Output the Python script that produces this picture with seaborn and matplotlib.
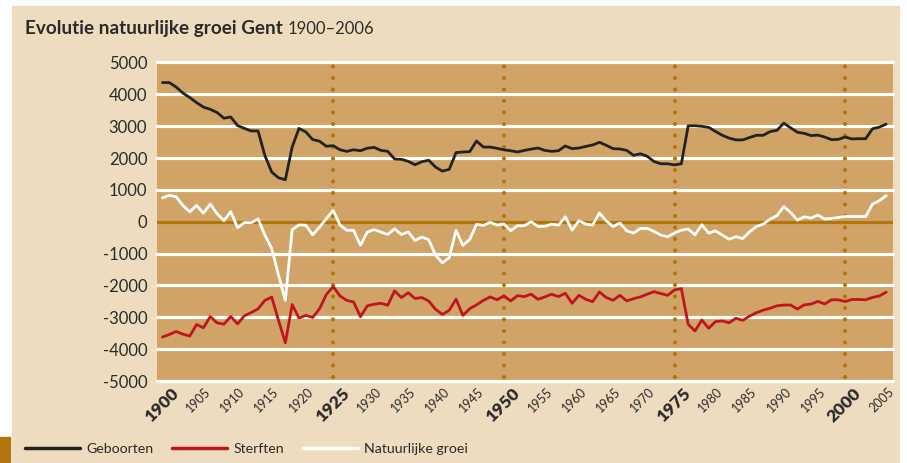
import matplotlib
matplotlib.use("Agg")
import matplotlib.pyplot as plt
import matplotlib.transforms as mtransforms
from matplotlib.lines import Line2D
from matplotlib.patches import Rectangle
import pandas as pd
import seaborn as sns

# --- data ---
jaren = list(range(1900, 2007))

geboorten = [
    4370, 4370, 4230, 4040, 3900, 3740, 3600, 3530, 3430, 3250,
    3290, 3020, 2930, 2850, 2850, 2080, 1560, 1380, 1320, 2350,
    2930, 2820, 2580, 2530, 2370, 2390, 2260, 2210, 2260, 2230,
    2310, 2335, 2240, 2210, 1970, 1960, 1895, 1790, 1885, 1930,
    1715, 1590, 1645, 2170, 2190, 2200, 2535, 2345, 2345, 2305,
    2260, 2230, 2190, 2240, 2280, 2315, 2240, 2210, 2230, 2380,
    2295, 2315, 2365, 2410, 2495, 2400, 2295, 2285, 2240, 2085,
    2135, 2055, 1890, 1820, 1820, 1785, 1820, 3010, 3015, 2995,
    2965, 2835, 2715, 2625, 2570, 2570, 2645, 2715, 2715, 2830,
    2870, 3095, 2950, 2810, 2775, 2705, 2720, 2660, 2578, 2588,
    2660, 2600, 2608, 2608, 2920, 2970, 3065,
]

sterften = [
    -3620, -3540, -3445, -3530, -3590, -3225, -3330, -2975, -3175, -3215,
    -2975, -3205, -2955, -2850, -2735, -2470, -2365, -3100, -3800, -2600,
    -3025, -2940, -3005, -2735, -2285, -2035, -2330, -2470, -2520, -2980,
    -2640, -2590, -2560, -2620, -2170, -2380, -2230, -2410, -2380, -2490,
    -2750, -2910, -2780, -2430, -2940, -2730, -2610, -2470, -2360, -2450,
    -2330, -2485, -2320, -2350, -2275, -2435, -2360, -2275, -2350, -2245,
    -2560, -2310, -2435, -2510, -2205, -2380, -2465, -2310, -2485, -2415,
    -2360, -2275, -2195, -2255, -2310, -2140, -2100, -3220, -3430, -3085,
    -3345, -3135, -3115, -3170, -3030, -3095, -2960, -2855, -2775, -2715,
    -2640, -2615, -2615, -2740, -2610, -2585, -2500, -2580, -2450, -2450,
    -2505, -2440, -2440, -2450, -2375, -2330, -2210,
]

groei = [
    750, 830, 785, 510, 310, 515, 270, 555, 255, 35,
    315, -185, -25, -30, 90, -420, -840, -1680, -2470, -250,
    -100, -110, -410, -170, 100, 355, -100, -270, -270, -740,
    -325, -245, -325, -400, -220, -400, -320, -590, -480, -565,
    -1050, -1290, -1130, -270, -745, -555, -80, -115, -20, -105,
    -70, -280, -125, -125, 0, -145, -145, -75, -105, 155,
    -260, 30, -75, -105, 275, 30, -155, -40, -285, -355,
    -210, -210, -305, -420, -470, -355, -265, -230, -410, -95,
    -355, -285, -420, -545, -470, -525, -315, -150, -75, 85,
    190, 475, 295, 50, 155, 115, 210, 85, 105, 135,
    165, 165, 165, 165, 555, 660, 820,
]

reeksen = ["Geboorten", "Sterften", "Natuurlijke groei"]
y_ticks = [5000, 4000, 3000, 2000, 1000, 0, -1000, -2000, -3000, -4000, -5000]
x_ticks = list(range(1900, 2006, 5))
mijlpalen = [1925, 1950, 1975, 2000]

# kleuren
BEIGE = "#eedcbf"
VAK = "#cfa466"
GOUD = "#b3760e"
TEKST = "#2b2b2b"
kleuren = {"Geboorten": "#222222", "Sterften": "#c0141e", "Natuurlijke groei": "#ffffff"}

sns.set_style("white")
plt.rcParams["font.family"] = ["Lato", "DejaVu Sans"]

df = pd.DataFrame({
    "jaar": jaren * 3,
    "waarde": geboorten + sterften + groei,
    "reeks": [r for r in reeksen for _ in jaren],
})

W, H = 907, 463
fig = plt.figure(figsize=(W / 100, H / 100), dpi=100)
fig.patch.set_facecolor("white")
fig.patches.append(Rectangle((12 / W, 0), (899 - 12) / W, (H - 6) / H,
                             transform=fig.transFigure, color=BEIGE, zorder=-10))
fig.patches.append(Rectangle((0, 0), 10 / W, 26 / H,
                             transform=fig.transFigure, color=GOUD, zorder=-9))

ax = fig.add_axes([157 / W, 82 / H, 736 / W, 318.5 / H])
ax.set_facecolor(VAK)
for s in ax.spines.values():
    s.set_visible(False)

# rasterlijnen
for v in y_ticks:
    if v == 0:
        ax.axhline(v, color=GOUD, lw=2.3, zorder=1)
    else:
        ax.axhline(v, color="white", lw=2.3, zorder=1, clip_on=False)

# gestippelde mijlpalen
for jr in mijlpalen:
    ax.axvline(jr, ymin=0.012, ymax=0.988, color=GOUD, lw=3,
               linestyle=(0, (0.01, 2.75)), dash_capstyle="round", zorder=1.5)

sns.lineplot(data=df, x="jaar", y="waarde", hue="reeks", hue_order=reeksen,
             palette=kleuren, linewidth=2, legend=False, ax=ax, zorder=3)

ax.set_xlim(1899.2, 2007.0)
ax.set_ylim(-5000, 5000)
ax.set_xlabel("")
ax.set_ylabel("")

ax.set_yticks(y_ticks)
ax.set_yticklabels([str(v) for v in y_ticks])
ax.tick_params(axis="y", length=0, pad=7, labelsize=12, labelcolor=TEKST)

ax.set_xticks(x_ticks)
ax.set_xticklabels([str(j) for j in x_ticks])
ax.tick_params(axis="x", length=0, pad=3, labelcolor=TEKST)
verschuif = mtransforms.ScaledTranslation(8 / 100, 0, fig.dpi_scale_trans)
for lbl, jr in zip(ax.get_xticklabels(), x_ticks):
    lbl.set_rotation(45)
    lbl.set_rotation_mode("anchor")
    lbl.set_ha("right")
    lbl.set_va("top")
    if jr % 25 == 0:
        lbl.set_fontsize(12.5)
        lbl.set_fontweight("heavy")
    else:
        lbl.set_fontsize(9)
    lbl.set_transform(lbl.get_transform() + verschuif)

# titel
t1 = fig.text(25 / W, 1 - 34 / H, "Evolutie natuurlijke groei Gent",
              fontsize=13.6, fontweight="bold", color=TEKST, va="baseline")
fig.canvas.draw()
bb = t1.get_window_extent()
fig.text(bb.x1 / W + 5 / W, 1 - 34 / H, "1900\u20132006",
         fontsize=12, color=TEKST, va="baseline")

# legenda
handles = [Line2D([], [], color=kleuren[r], lw=2.5) for r in reeksen]
fig.legend(handles, reeksen, loc="center left", bbox_to_anchor=(25 / W, 1 - 449 / H),
           ncol=3, frameon=False, fontsize=10.2, handlelength=3.9, handletextpad=0.45,
           columnspacing=1.3, borderpad=0, borderaxespad=0, labelcolor=TEKST)

fig.savefig("out.png", dpi=100, facecolor=fig.get_facecolor())
